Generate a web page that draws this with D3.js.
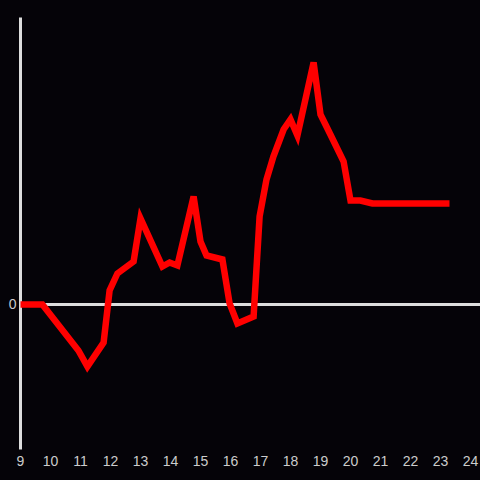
<!DOCTYPE html>
<html>
<head>
  <meta charset="utf-8">
  <script src="https://cdn.jsdelivr.net/npm/d3@7"></script>
  <style>
    html, body { margin: 0; padding: 0; background: #050308; }
    text { font-family: "Liberation Sans", Arial, sans-serif; }
  </style>
</head>
<body>
<script>
  var breite = 480, hoehe = 480;

  // Stunden und Werte der Kurve
  var hours  = [9.0, 9.73, 10.93, 11.23, 11.77, 11.97, 12.23, 12.77, 13.0, 13.73, 13.97, 14.23,
                14.77, 15.0, 15.2, 15.73, 15.97, 16.23, 16.77, 16.97, 17.2, 17.43, 17.77, 18.0,
                18.23, 18.77, 19.0, 19.33, 19.77, 20.0, 20.33, 20.73, 23.3];
  var values = [0, 0, -46, -62, -38, 14, 31, 43, 86, 38, 42, 39,
                108, 63, 49, 45, 1, -19, -12, 88, 125, 148, 175, 185,
                169, 242, 190, 170, 143, 104, 104, 101, 101];
  var xTicks = [9, 10, 11, 12, 13, 14, 15, 16, 17, 18, 19, 20, 21, 22, 23, 24];
  var yTicks = [0];

  var svg = d3.select("body").append("svg")
              .attr("width", breite)
              .attr("height", hoehe);

  svg.append("rect").attr("width", breite).attr("height", hoehe).attr("fill", "#050308");

  var x = d3.scaleLinear().domain([9, 24]).range([20.5, 470.5]);
  var y = d3.scaleLinear().domain([-145, 287]).range([449.5, 17.5]);

  // y-Achse
  svg.append("line")
     .attr("x1", x(9)).attr("x2", x(9))
     .attr("y1", y(287)).attr("y2", y(-145))
     .attr("stroke", "#dddddd").attr("stroke-width", 3);

  // Nulllinie
  svg.append("line")
     .attr("x1", x(9)).attr("x2", breite)
     .attr("y1", y(0)).attr("y2", y(0))
     .attr("stroke", "#dddddd").attr("stroke-width", 3);

  svg.selectAll(".ylab").data(yTicks).enter().append("text")
     .attr("x", x(9) - 4).attr("y", function(d) { return y(d); })
     .attr("dy", "0.35em").attr("text-anchor", "end")
     .attr("fill", "#cccccc").attr("font-size", 14)
     .text(function(d) { return d; });

  svg.selectAll(".xlab").data(xTicks).enter().append("text")
     .attr("x", function(d) { return x(d); }).attr("y", 466)
     .attr("text-anchor", "middle")
     .attr("fill", "#cccccc").attr("font-size", 14)
     .text(function(d) { return d; });

  var punkte = hours.map(function(h, i) { return [h, values[i]]; });
  var linie = d3.line().x(function(d) { return x(d[0]); }).y(function(d) { return y(d[1]); });

  svg.append("path")
     .attr("d", linie(punkte))
     .attr("fill", "none")
     .attr("stroke", "#ff0000")
     .attr("stroke-width", 6.5);
</script>
</body>
</html>
